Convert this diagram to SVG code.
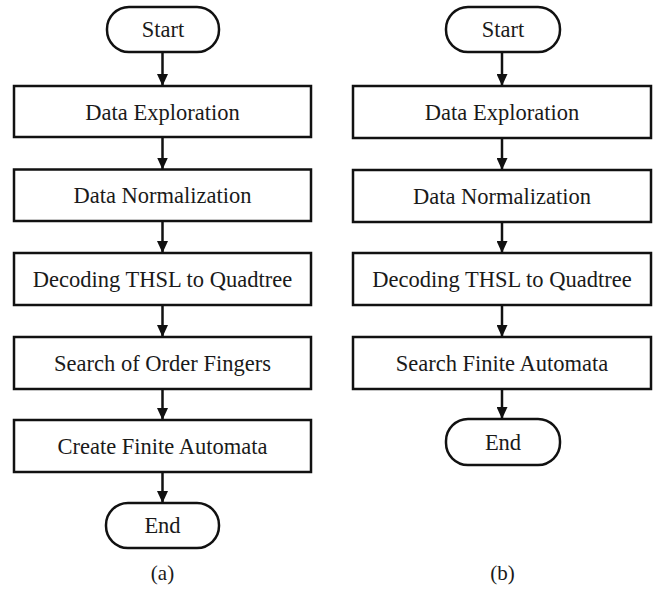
<svg xmlns="http://www.w3.org/2000/svg" width="654" height="595" viewBox="0 0 654 595">
<style>
.shape{fill:#fff;stroke:#111;stroke-width:2.5}
.lbl{font-family:"Liberation Serif","Times New Roman",serif;font-size:22.5px;fill:#1a1a1a;text-anchor:middle}
.cap{font-family:"Liberation Serif","Times New Roman",serif;font-size:21px;fill:#1a1a1a;text-anchor:middle}
.conn{stroke:#111;stroke-width:2.5;fill:none;marker-end:url(#arr)}
</style>
<defs>
<marker id="arr" markerUnits="userSpaceOnUse" markerWidth="12" markerHeight="11" refX="12" refY="5.5" orient="auto">
<path d="M0,0 L12,5.5 L0,11 z" fill="#111"/>
</marker>
</defs>
<rect width="654" height="595" fill="#fff"/>
<g id="connectors">
<line class="conn" x1="162.5" y1="52" x2="162.5" y2="86"/>
<line class="conn" x1="162.5" y1="137" x2="162.5" y2="169.5"/>
<line class="conn" x1="162.5" y1="221" x2="162.5" y2="253"/>
<line class="conn" x1="162.5" y1="305" x2="162.5" y2="337"/>
<line class="conn" x1="162.5" y1="389" x2="162.5" y2="420"/>
<line class="conn" x1="162.5" y1="472" x2="162.5" y2="503"/>
<line class="conn" x1="502" y1="52" x2="502" y2="86"/>
<line class="conn" x1="502" y1="138" x2="502" y2="170"/>
<line class="conn" x1="502" y1="222" x2="502" y2="253"/>
<line class="conn" x1="502" y1="305" x2="502" y2="337"/>
<line class="conn" x1="502" y1="389" x2="502" y2="419"/>
</g>
<g id="a-start"><rect class="shape" x="107" y="7" width="112" height="45" rx="22" ry="22"/><text class="lbl" x="163" y="37">Start</text></g>
<g id="a-explore"><rect class="shape" x="14" y="86" width="297" height="51"/><text class="lbl" x="162.5" y="119.5">Data Exploration</text></g>
<g id="a-normal"><rect class="shape" x="14" y="169.5" width="297" height="51.5"/><text class="lbl" x="162.5" y="203">Data Normalization</text></g>
<g id="a-decode"><rect class="shape" x="14" y="253" width="297" height="52"/><text class="lbl" x="162.5" y="287">Decoding THSL to Quadtree</text></g>
<g id="a-search"><rect class="shape" x="14" y="337" width="297" height="52"/><text class="lbl" x="162.5" y="371">Search of Order Fingers</text></g>
<g id="a-create"><rect class="shape" x="14" y="420" width="297" height="52"/><text class="lbl" x="162.5" y="454">Create Finite Automata</text></g>
<g id="a-end"><rect class="shape" x="106" y="503" width="113" height="45" rx="22" ry="22"/><text class="lbl" x="162.5" y="533">End</text></g>
<text class="cap" x="162.5" y="580">(a)</text>
<g id="b-start"><rect class="shape" x="446" y="7" width="114" height="45" rx="22" ry="22"/><text class="lbl" x="503" y="37">Start</text></g>
<g id="b-explore"><rect class="shape" x="353" y="86" width="298" height="52"/><text class="lbl" x="502" y="120">Data Exploration</text></g>
<g id="b-normal"><rect class="shape" x="353" y="170" width="298" height="52"/><text class="lbl" x="502" y="204">Data Normalization</text></g>
<g id="b-decode"><rect class="shape" x="353" y="253" width="298" height="52"/><text class="lbl" x="502" y="287">Decoding THSL to Quadtree</text></g>
<g id="b-search"><rect class="shape" x="353" y="337" width="298" height="52"/><text class="lbl" x="502" y="371">Search Finite Automata</text></g>
<g id="b-end"><rect class="shape" x="446" y="419" width="114" height="46" rx="22" ry="22"/><text class="lbl" x="503" y="450">End</text></g>
<text class="cap" x="502.5" y="580">(b)</text>
</svg>
